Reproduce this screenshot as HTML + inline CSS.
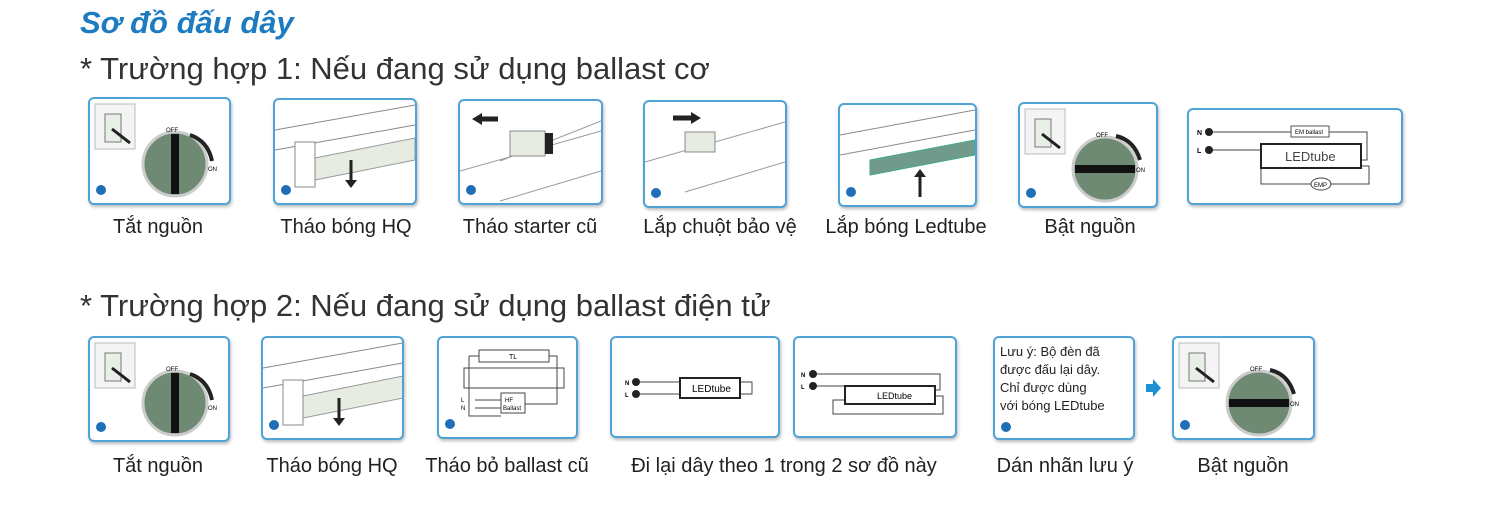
<!DOCTYPE html>
<html><head><meta charset="utf-8"><style>
body{margin:0;width:1500px;height:509px;background:#fff;position:relative;overflow:hidden;font-family:"Liberation Sans","DejaVu Sans",sans-serif;color:#231f20}
.t{position:absolute;white-space:nowrap}
.b{position:absolute;border:2px solid #4fa3d6;border-radius:6px;background:#fff;box-shadow:1px 2px 3px #bbb}
.l{position:absolute;font-size:20px;transform:translateX(-50%);white-space:nowrap;top:216px}
.l2{top:455px}
.n{position:absolute;width:10px;height:10px;border-radius:50%;background:#1e6fb8;left:6px;bottom:8px}
</style></head><body>
<div class="t" style="left:80px;top:5px;font-size:31px;font-weight:bold;font-style:italic;color:#1d7cc1">Sơ đồ đấu dây</div>
<div class="t" style="left:80px;top:51px;font-size:31px;color:#333">* Trường hợp 1: Nếu đang sử dụng ballast cơ</div>
<div class="t" style="left:80px;top:288px;font-size:31px;color:#333">* Trường hợp 2: Nếu đang sử dụng ballast điện tử</div>

<svg width="0" height="0" style="position:absolute"><defs>
<g id="sw"><rect x="5" y="5" width="40" height="45" fill="#f4f4f4" stroke="#bbb"/><rect x="15" y="15" width="16" height="28" fill="#e8efe6" stroke="#777"/><line x1="22" y1="30" x2="40" y2="44" stroke="#222" stroke-width="3"/>
<circle cx="85" cy="65" r="32" fill="#6e8a73" stroke="#ccc" stroke-width="3"/></g>
<g id="tube"><path d="M0 30 L140 5 M0 50 L140 25" stroke="#888" fill="none"/><path d="M30 60 L140 38 L140 60 L30 82 Z" fill="#e7ece3" stroke="#999"/><rect x="20" y="42" width="20" height="45" fill="#fff" stroke="#888"/></g>
</defs></svg>

<!-- Row 1 -->
<div class="b" style="left:88px;top:97px;width:139px;height:104px"><svg width="139" height="104"><use href="#sw"/><rect x="81" y="35" width="8" height="60" fill="#111"/><path d="M100 36 Q118 42 122 62" stroke="#222" stroke-width="4" fill="none"/><text x="76" y="33" font-size="6">OFF</text><text x="118" y="72" font-size="6">ON</text></svg><div class="n"></div></div>
<div class="b" style="left:273px;top:98px;width:140px;height:103px"><svg width="140" height="103"><use href="#tube"/><path d="M76 60 v22" stroke="#222" stroke-width="3"/><path d="M70 80 l6 8 l6 -8z" fill="#222"/></svg><div class="n"></div></div>
<div class="b" style="left:458px;top:99px;width:141px;height:102px"><svg width="141" height="102"><path d="M0 70 L141 30 M40 100 L141 70 M40 60 L141 20" stroke="#999" fill="none"/><rect x="50" y="30" width="35" height="25" fill="#e7ece3" stroke="#888"/><rect x="85" y="32" width="8" height="21" fill="#222"/><path d="M38 18 h-20" stroke="#222" stroke-width="5"/><path d="M22 12 l-10 6 l10 6z" fill="#222"/></svg><div class="n"></div></div>
<div class="b" style="left:643px;top:100px;width:140px;height:104px"><svg width="140" height="104"><path d="M0 60 L140 20 M40 90 L140 60" stroke="#999" fill="none"/><rect x="40" y="30" width="30" height="20" fill="#e7ece3" stroke="#888"/><path d="M28 16 h20" stroke="#222" stroke-width="5"/><path d="M46 10 l10 6 l-10 6z" fill="#222"/></svg><div class="n"></div></div>
<div class="b" style="left:838px;top:103px;width:135px;height:100px"><svg width="135" height="100"><path d="M0 30 L135 5 M0 50 L135 25" stroke="#888" fill="none"/><path d="M30 55 L135 35 L135 50 L30 70 Z" fill="#6f9a8c" stroke="#4a8"/><path d="M80 92 v-22" stroke="#222" stroke-width="3"/><path d="M74 72 l6 -8 l6 8z" fill="#222"/></svg><div class="n"></div></div>
<div class="b" style="left:1018px;top:102px;width:136px;height:102px"><svg width="136" height="102"><use href="#sw"/><rect x="55" y="61" width="60" height="8" fill="#111"/><path d="M96 32 Q114 36 120 56" stroke="#222" stroke-width="4" fill="none"/><text x="76" y="33" font-size="6">OFF</text><text x="116" y="68" font-size="6">ON</text></svg><div class="n"></div></div>
<div class="b" style="left:1187px;top:108px;width:212px;height:93px"><svg width="212" height="93"><g stroke="#444" fill="none"><path d="M20 22 H102 M140 22 H178 V50 H172"/><path d="M20 40 H72 V46"/><path d="M72 56 V74 H122 M142 74 H180 V56 H172"/></g><circle cx="20" cy="22" r="4" fill="#222"/><circle cx="20" cy="40" r="4" fill="#222"/><text x="8" y="25" font-size="7" font-weight="bold">N</text><text x="8" y="43" font-size="7" font-weight="bold">L</text><rect x="102" y="16" width="38" height="11" fill="#fff" stroke="#555"/><text x="106" y="24" font-size="6">EM ballast</text><rect x="72" y="34" width="100" height="24" fill="#fff" stroke="#222" stroke-width="2"/><text x="96" y="51" font-size="13" fill="#444">LEDtube</text><ellipse cx="132" cy="74" rx="10" ry="6" fill="#fff" stroke="#444"/><text x="125" y="77" font-size="6">EMP</text></svg></div>

<div class="l" style="left:158px">Tắt nguồn</div>
<div class="l" style="left:346px">Tháo bóng HQ</div>
<div class="l" style="left:530px">Tháo starter cũ</div>
<div class="l" style="left:720px">Lắp chuột bảo vệ</div>
<div class="l" style="left:906px">Lắp bóng Ledtube</div>
<div class="l" style="left:1090px">Bật nguồn</div>

<!-- Row 2 -->
<div class="b" style="left:88px;top:336px;width:138px;height:102px"><svg width="138" height="102"><use href="#sw"/><rect x="81" y="35" width="8" height="60" fill="#111"/><path d="M100 36 Q118 42 122 62" stroke="#222" stroke-width="4" fill="none"/><text x="76" y="33" font-size="6">OFF</text><text x="118" y="72" font-size="6">ON</text></svg><div class="n"></div></div>
<div class="b" style="left:261px;top:336px;width:139px;height:100px"><svg width="139" height="100"><use href="#tube"/><path d="M76 60 v22" stroke="#222" stroke-width="3"/><path d="M70 80 l6 8 l6 -8z" fill="#222"/></svg><div class="n"></div></div>
<div class="b" style="left:437px;top:336px;width:137px;height:99px"><svg width="137" height="99"><g stroke="#444" fill="none"><rect x="40" y="12" width="70" height="12"/><rect x="62" y="55" width="24" height="20"/><path d="M30 18 H40 M110 18 H118 V66 H86 M30 18 V78 H62 M36 62 H62 M36 70 H62 M25 30 H125 V50 H25 Z"/></g><text x="70" y="21" font-size="7">TL</text><text x="66" y="64" font-size="6">HF</text><text x="64" y="72" font-size="6">Ballast</text><text x="22" y="64" font-size="6">L</text><text x="22" y="72" font-size="6">N</text></svg><div class="n"></div></div>
<div class="b" style="left:610px;top:336px;width:166px;height:98px"><svg width="166" height="98"><g stroke="#444" fill="none"><path d="M24 44 H68 M24 56 H68 M128 44 H140 V56 H128"/></g><circle cx="24" cy="44" r="4" fill="#222"/><circle cx="24" cy="56" r="4" fill="#222"/><text x="13" y="47" font-size="6" font-weight="bold">N</text><text x="13" y="59" font-size="6" font-weight="bold">L</text><rect x="68" y="40" width="60" height="20" fill="#fff" stroke="#222" stroke-width="2"/><text x="80" y="54" font-size="10">LEDtube</text></svg></div>
<div class="b" style="left:793px;top:336px;width:160px;height:98px"><svg width="160" height="98"><g stroke="#444" fill="none"><path d="M18 36 H145 V52 H140 M18 48 H50 M50 62 H38 V76 H148 V58 H140"/></g><circle cx="18" cy="36" r="4" fill="#222"/><circle cx="18" cy="48" r="4" fill="#222"/><text x="6" y="39" font-size="6" font-weight="bold">N</text><text x="6" y="51" font-size="6" font-weight="bold">L</text><rect x="50" y="48" width="90" height="18" fill="#fff" stroke="#222" stroke-width="2"/><text x="82" y="61" font-size="9">LEDtube</text></svg></div>
<div class="b" style="left:993px;top:336px;width:138px;height:100px"><div style="position:absolute;left:5px;top:5px;font-size:13px;line-height:18px;font-family:'Liberation Sans','DejaVu Sans',sans-serif">Lưu ý: Bộ đèn đã<br>được đấu lại dây.<br>Chỉ được dùng<br>với bóng LEDtube</div><div class="n" style="bottom:6px"></div></div>
<svg style="position:absolute;left:1146px;top:379px" width="16" height="18"><path d="M0 5 H7 V0 L15 9 L7 18 V13 H0Z" fill="#1e8fd0"/></svg>
<div class="b" style="left:1172px;top:336px;width:139px;height:100px"><svg width="139" height="100"><use href="#sw"/><rect x="55" y="61" width="60" height="8" fill="#111"/><path d="M96 32 Q114 36 120 56" stroke="#222" stroke-width="4" fill="none"/><text x="76" y="33" font-size="6">OFF</text><text x="116" y="68" font-size="6">ON</text></svg><div class="n"></div></div>

<div class="l l2" style="left:158px">Tắt nguồn</div>
<div class="l l2" style="left:332px">Tháo bóng HQ</div>
<div class="l l2" style="left:507px">Tháo bỏ ballast cũ</div>
<div class="l l2" style="left:784px">Đi lại dây theo 1 trong 2 sơ đồ này</div>
<div class="l l2" style="left:1065px">Dán nhãn lưu ý</div>
<div class="l l2" style="left:1243px">Bật nguồn</div>
</body></html>
